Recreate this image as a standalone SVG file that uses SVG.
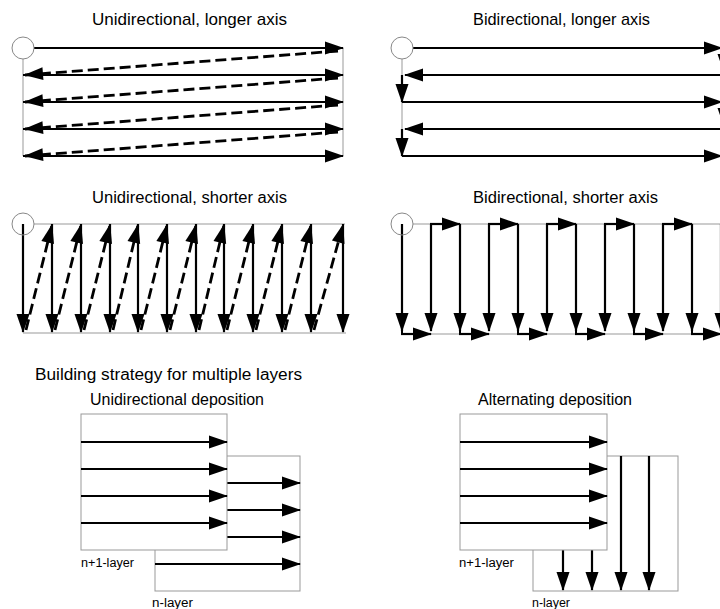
<svg xmlns="http://www.w3.org/2000/svg" width="720" height="609" viewBox="0 0 720 609">
<style>
text{font-family:"Liberation Sans",Arial,sans-serif;fill:#000}
.t{font-size:17px}
.t2{font-size:16px}
.s{font-size:12px}
.thin{stroke:#999;stroke-width:1;fill:none}
.a{stroke:#000;stroke-width:2.2;fill:none;marker-end:url(#ah)}
.d{stroke:#000;stroke-width:2.8;fill:none;stroke-dasharray:11 5;marker-end:url(#ah)}
.c{fill:#fff;stroke:#888;stroke-width:1}
.box{fill:#fff;stroke:#999;stroke-width:1}
</style>
<defs>
<marker id="ah" markerUnits="userSpaceOnUse" markerWidth="20" markerHeight="14" refX="18" refY="6.5" orient="auto" overflow="visible">
<path d="M0,0 L19,6.5 L0,13 z" fill="#000"/>
</marker>
</defs>
<rect width="720" height="609" fill="#fff"/>

<g id="labels">
<text class="t" x="92" y="25" textLength="195" lengthAdjust="spacingAndGlyphs">Unidirectional, longer axis</text>
<text class="t" x="473" y="25" textLength="177" lengthAdjust="spacingAndGlyphs">Bidirectional, longer axis</text>
<text class="t2" x="92" y="203" textLength="195" lengthAdjust="spacingAndGlyphs">Unidirectional, shorter axis</text>
<text class="t2" x="473" y="203" textLength="185" lengthAdjust="spacingAndGlyphs">Bidirectional, shorter axis</text>
<text class="t2" x="35" y="380" textLength="267" lengthAdjust="spacingAndGlyphs">Building strategy for multiple layers</text>
<text class="t2" x="90" y="405" textLength="174" lengthAdjust="spacingAndGlyphs">Unidirectional deposition</text>
<text class="t2" x="478" y="405" textLength="154" lengthAdjust="spacingAndGlyphs">Alternating deposition</text>
</g>

<!-- Panel 1: Unidirectional, longer axis -->
<g id="uni-longer">
<line class="thin" x1="23" y1="59" x2="23" y2="156"/>
<line class="thin" x1="343" y1="48" x2="343" y2="156"/>
<g id="uni-longer-connectors">
<line class="a" x1="34" y1="48" x2="343" y2="48"/>
<line class="a" x1="23" y1="75" x2="343" y2="75"/>
<line class="a" x1="23" y1="102" x2="343" y2="102"/>
<line class="a" x1="23" y1="129" x2="343" y2="129"/>
<line class="a" x1="23" y1="156" x2="343" y2="156"/>
<line class="d" x1="338" y1="51" x2="25" y2="75"/>
<line class="d" x1="338" y1="78" x2="25" y2="102"/>
<line class="d" x1="338" y1="105" x2="25" y2="129"/>
<line class="d" x1="338" y1="132" x2="25" y2="156"/>
</g>
<circle class="c" cx="23" cy="48" r="11"/>
</g>

<!-- Panel 2: Bidirectional, longer axis -->
<g id="bi-longer">
<line class="thin" x1="402" y1="59" x2="402" y2="156"/>
<g id="bi-longer-connectors">
<line class="a" x1="413" y1="48" x2="722" y2="48"/>
<line class="a" x1="724" y1="48" x2="724" y2="72"/>
<line class="a" x1="724" y1="75" x2="405" y2="75"/>
<line class="a" x1="402" y1="75" x2="402" y2="102"/>
<line class="a" x1="402" y1="102" x2="722" y2="102"/>
<line class="a" x1="724" y1="102" x2="724" y2="126"/>
<line class="a" x1="724" y1="129" x2="405" y2="129"/>
<line class="a" x1="402" y1="129" x2="402" y2="156"/>
<line class="a" x1="402" y1="156" x2="722" y2="156"/>
</g>
<circle class="c" cx="402" cy="48" r="11"/>
</g>

<!-- Panel 3: Unidirectional, shorter axis -->
<g id="uni-shorter">
<line class="thin" x1="34" y1="224" x2="345" y2="224"/>
<line class="thin" x1="23" y1="333" x2="346" y2="333"/>
<g id="uni-shorter-connectors">
<line class="a" x1="23" y1="224" x2="23" y2="332"/>
<line class="a" x1="52" y1="224" x2="52" y2="332"/>
<line class="a" x1="81" y1="224" x2="81" y2="332"/>
<line class="a" x1="110" y1="224" x2="110" y2="332"/>
<line class="a" x1="138" y1="224" x2="138" y2="332"/>
<line class="a" x1="167" y1="224" x2="167" y2="332"/>
<line class="a" x1="196" y1="224" x2="196" y2="332"/>
<line class="a" x1="224" y1="224" x2="224" y2="332"/>
<line class="a" x1="253" y1="224" x2="253" y2="332"/>
<line class="a" x1="282" y1="224" x2="282" y2="332"/>
<line class="a" x1="311" y1="224" x2="311" y2="332"/>
<line class="a" x1="343" y1="224" x2="343" y2="332"/>
<line class="d" x1="26" y1="330" x2="52" y2="225"/>
<line class="d" x1="55" y1="330" x2="81" y2="225"/>
<line class="d" x1="84" y1="330" x2="110" y2="225"/>
<line class="d" x1="113" y1="330" x2="138" y2="225"/>
<line class="d" x1="141" y1="330" x2="167" y2="225"/>
<line class="d" x1="170" y1="330" x2="196" y2="225"/>
<line class="d" x1="199" y1="330" x2="224" y2="225"/>
<line class="d" x1="227" y1="330" x2="253" y2="225"/>
<line class="d" x1="256" y1="330" x2="282" y2="225"/>
<line class="d" x1="285" y1="330" x2="311" y2="225"/>
<line class="d" x1="314" y1="330" x2="343" y2="225"/>
</g>
<circle cx="23" cy="224" r="11" fill="none" stroke="#888" stroke-width="1"/>
</g>

<!-- Panel 4: Bidirectional, shorter axis -->
<g id="bi-shorter">
<line class="thin" x1="413" y1="224" x2="720" y2="224"/>
<line class="thin" x1="402" y1="334" x2="720" y2="334"/>
<g id="bi-shorter-connectors">
<line class="a" x1="402" y1="224" x2="402" y2="331"/>
<line class="a" x1="431" y1="224" x2="431" y2="331"/>
<line class="a" x1="460" y1="224" x2="460" y2="331"/>
<line class="a" x1="489" y1="224" x2="489" y2="331"/>
<line class="a" x1="518" y1="224" x2="518" y2="331"/>
<line class="a" x1="547" y1="224" x2="547" y2="331"/>
<line class="a" x1="576" y1="224" x2="576" y2="331"/>
<line class="a" x1="605" y1="224" x2="605" y2="331"/>
<line class="a" x1="634" y1="224" x2="634" y2="331"/>
<line class="a" x1="663" y1="224" x2="663" y2="331"/>
<line class="a" x1="692" y1="224" x2="692" y2="331"/>
<line class="a" x1="721" y1="224" x2="721" y2="331"/>
<line class="a" x1="430" y1="224" x2="460" y2="224"/>
<line class="a" x1="488" y1="224" x2="518" y2="224"/>
<line class="a" x1="546" y1="224" x2="576" y2="224"/>
<line class="a" x1="604" y1="224" x2="634" y2="224"/>
<line class="a" x1="662" y1="224" x2="692" y2="224"/>
<line class="a" x1="401" y1="334" x2="431" y2="334"/>
<line class="a" x1="459" y1="334" x2="489" y2="334"/>
<line class="a" x1="517" y1="334" x2="547" y2="334"/>
<line class="a" x1="575" y1="334" x2="605" y2="334"/>
<line class="a" x1="633" y1="334" x2="663" y2="334"/>
<line class="a" x1="691" y1="334" x2="721" y2="334"/>
<line x1="402" y1="330" x2="402" y2="335" stroke="#000" stroke-width="2"/>
<line x1="460" y1="330" x2="460" y2="335" stroke="#000" stroke-width="2"/>
<line x1="518" y1="330" x2="518" y2="335" stroke="#000" stroke-width="2"/>
<line x1="576" y1="330" x2="576" y2="335" stroke="#000" stroke-width="2"/>
<line x1="634" y1="330" x2="634" y2="335" stroke="#000" stroke-width="2"/>
<line x1="692" y1="330" x2="692" y2="335" stroke="#000" stroke-width="2"/>
</g>
<circle cx="402" cy="224" r="11" fill="none" stroke="#888" stroke-width="1"/>
</g>

<!-- Panel 5: Unidirectional deposition -->
<g id="uni-deposition">
<g id="n-layer-left">
<rect class="box" x="155" y="456" width="145" height="135"/>
</g>
<g id="uni-dep-back-connectors">
<line class="a" x1="227" y1="483" x2="300" y2="483"/>
<line class="a" x1="227" y1="510" x2="300" y2="510"/>
<line class="a" x1="227" y1="537" x2="300" y2="537"/>
<line class="a" x1="155" y1="564" x2="300" y2="564"/>
</g>
<g id="n1-layer-left">
<rect class="box" x="81" y="414" width="146" height="136"/>
</g>
<g id="uni-dep-front-connectors">
<line class="a" x1="81" y1="442" x2="227" y2="442"/>
<line class="a" x1="81" y1="469" x2="227" y2="469"/>
<line class="a" x1="81" y1="496" x2="227" y2="496"/>
<line class="a" x1="81" y1="523" x2="227" y2="523"/>
</g>
<text class="s" x="81" y="567" textLength="53" lengthAdjust="spacingAndGlyphs">n+1-layer</text>
<text class="s" x="152" y="607" textLength="41" lengthAdjust="spacingAndGlyphs">n-layer</text>
</g>

<!-- Panel 6: Alternating deposition -->
<g id="alt-deposition">
<g id="n-layer-right">
<rect class="box" x="533" y="456" width="145" height="135"/>
</g>
<g id="alt-dep-back-connectors">
<line class="a" x1="563" y1="550" x2="563" y2="590"/>
<line class="a" x1="592" y1="550" x2="592" y2="590"/>
<line class="a" x1="621" y1="456" x2="621" y2="590"/>
<line class="a" x1="649" y1="456" x2="649" y2="590"/>
</g>
<g id="n1-layer-right">
<rect class="box" x="460" y="414" width="147" height="136"/>
</g>
<g id="alt-dep-front-connectors">
<line class="a" x1="460" y1="442" x2="607" y2="442"/>
<line class="a" x1="460" y1="469" x2="607" y2="469"/>
<line class="a" x1="460" y1="496" x2="607" y2="496"/>
<line class="a" x1="460" y1="523" x2="607" y2="523"/>
</g>
<text class="s" x="459" y="567" textLength="55" lengthAdjust="spacingAndGlyphs">n+1-layer</text>
<text class="s" x="532" y="607" textLength="38" lengthAdjust="spacingAndGlyphs">n-layer</text>
</g>
</svg>
